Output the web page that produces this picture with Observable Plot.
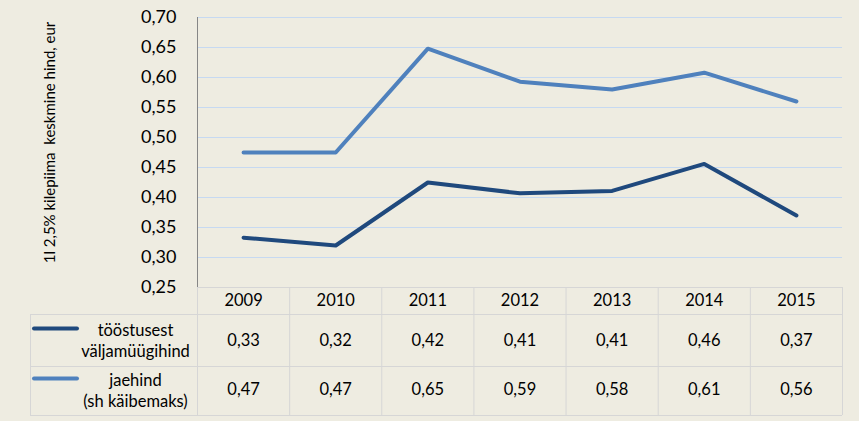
<!DOCTYPE html>
<html>
<head>
<meta charset="utf-8">
<script src="https://cdn.jsdelivr.net/npm/d3@7"></script>
<script src="https://cdn.jsdelivr.net/npm/@observablehq/plot@0.6"></script>
<style>
  html, body { margin: 0; padding: 0; background: #EEECE1; }
  #chart svg { display: block; }
</style>
</head>
<body>
<div id="chart"></div>
<script>
const years = ["2009", "2010", "2011", "2012", "2013", "2014", "2015"];
// values as plotted (line positions)
const tootstusest = [0.333, 0.320, 0.425, 0.407, 0.411, 0.456, 0.370];
const jaehind = [0.475, 0.475, 0.648, 0.593, 0.580, 0.608, 0.560];
// values as printed in the data table
const tootstusestLabels = ["0,33", "0,32", "0,42", "0,41", "0,41", "0,46", "0,37"];
const jaehindLabels = ["0,47", "0,47", "0,65", "0,59", "0,58", "0,61", "0,56"];
const yTicks = [0.25, 0.30, 0.35, 0.40, 0.45, 0.50, 0.55, 0.60, 0.65, 0.70];
const seriesNames = ["tööstusest\nväljamüügihind", "jaehind\n(sh käibemaks)"];
const yTitle = "1l 2,5% kilepiima  keskmine hind, eur";

const dark = "#1F497D";
const light = "#4F81BD";
const grid = "#C6D9F1";
const tableLine = "#D6D6D6";

const idx = years.map((d, i) => i);
const edges = d3.range(-0.5, years.length, 1);
const yMin = yTicks[0];
const yMax = yTicks[yTicks.length - 1];
const tf = 16.5;

const chart = Plot.plot({
  width: 859,
  height: 421,
  marginLeft: 197,
  marginRight: 17,
  marginTop: 17,
  marginBottom: 134,
  style: { background: "#EEECE1", fontFamily: "Lato, 'Open Sans', sans-serif", color: "#000" },
  x: { domain: [-0.5, years.length - 0.5], axis: null },
  y: { domain: [yMin, yMax], axis: null },
  marks: [
    // gridlines
    Plot.ruleY(yTicks.slice(1), { stroke: grid, strokeWidth: 1 }),
    // y axis
    Plot.axisY({
      ticks: yTicks,
      tickFormat: d => d.toFixed(2).replace(".", ","),
      tickSize: 0,
      tickPadding: 21,
      fontSize: 18,
      label: null
    }),
    // y title
    Plot.text([yTitle], {
      frameAnchor: "left",
      textAnchor: "middle",
      rotate: -90,
      dx: -147,
      dy: -10,
      fontSize: 15,
      fontWeight: "normal",
      fill: "#000"
    }),
    // table horizontal lines
    Plot.ruleY([yMin], { x1: -0.5, x2: years.length - 0.5, stroke: tableLine }),
    Plot.ruleY([yMin], { x1: -0.5, x2: years.length - 0.5, insetLeft: -167, dy: 27, stroke: tableLine }),
    Plot.ruleY([yMin], { x1: -0.5, x2: years.length - 0.5, insetLeft: -167, dy: 79, stroke: tableLine }),
    Plot.ruleY([yMin], { x1: -0.5, x2: years.length - 0.5, insetLeft: -167, dy: 128, stroke: tableLine }),
    // table vertical lines
    Plot.ruleX(edges, { y1: yMin, y2: yMin, insetBottom: -128, stroke: tableLine }),
    Plot.ruleX([-0.5], { y1: yMin, y2: yMin, insetTop: 27, insetBottom: -128, dx: -167, stroke: tableLine }),
    // plot-area axis line
    Plot.ruleX([-0.5], { y1: yMin, y2: yMax, stroke: "#868686" }),
    // lines
    Plot.line(idx, { x: i => i, y: i => tootstusest[i], stroke: dark, strokeWidth: 4, strokeLinejoin: "round", strokeLinecap: "round" }),
    Plot.line(idx, { x: i => i, y: i => jaehind[i], stroke: light, strokeWidth: 4, strokeLinejoin: "round", strokeLinecap: "round" }),
    // header years
    Plot.text(idx, { x: i => i, y: yMin, text: i => years[i], dy: 13, fontSize: tf, fill: "#000" }),
    // table values
    Plot.text(idx, { x: i => i, y: yMin, text: i => tootstusestLabels[i], dy: 53, fontSize: tf, fill: "#000" }),
    Plot.text(idx, { x: i => i, y: yMin, text: i => jaehindLabels[i], dy: 102, fontSize: tf, fill: "#000" }),
    // legend swatches
    Plot.ruleY([yMin], { x1: -0.5, x2: -0.5, insetLeft: -163, insetRight: 120, dy: 41, stroke: dark, strokeWidth: 4, strokeLinecap: "round" }),
    Plot.ruleY([yMin], { x1: -0.5, x2: -0.5, insetLeft: -163, insetRight: 120, dy: 91, stroke: light, strokeWidth: 4, strokeLinecap: "round" }),
    // legend labels
    Plot.text([seriesNames[0]], { x: -0.5, y: yMin, dx: -62, dy: 52, lineHeight: 1.3, fontSize: tf, fill: "#000" }),
    Plot.text([seriesNames[1]], { x: -0.5, y: yMin, dx: -62, dy: 102, lineHeight: 1.3, fontSize: tf, fill: "#000" })
  ]
});
document.getElementById("chart").appendChild(chart);
</script>
</body>
</html>
